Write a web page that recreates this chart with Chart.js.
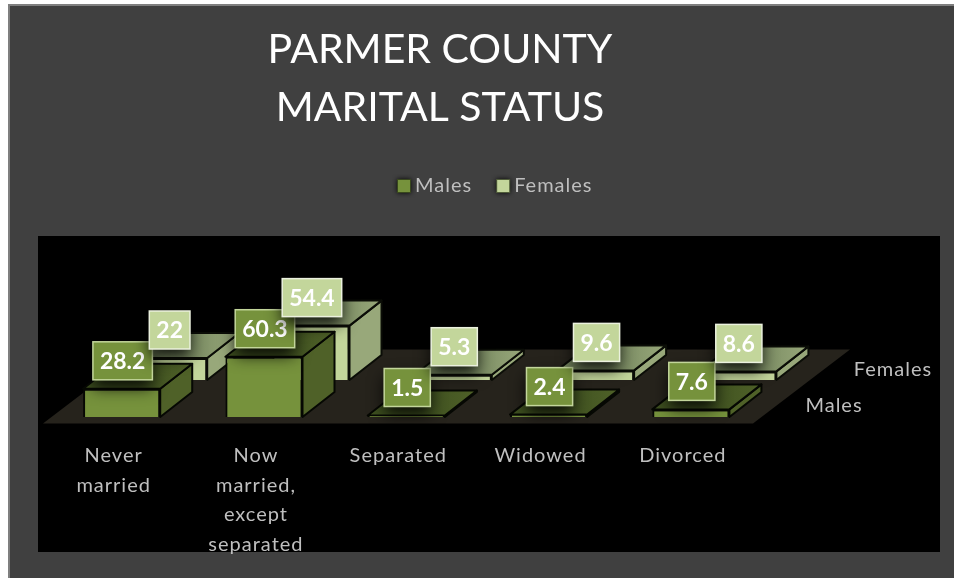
<!DOCTYPE html>
<html><head><meta charset="utf-8">
<style>html,body{margin:0;padding:0;background:#fff}canvas{display:block;filter:blur(0.5px)}</style>
<script src="https://cdn.jsdelivr.net/npm/chart.js@4"></script>
</head><body><canvas id="c" width="954" height="578"></canvas>
<script>
const categories = [['Never','married'],['Now','married,','except','separated'],'Separated','Widowed','Divorced'];
const males = [28.2, 60.3, 1.5, 2.4, 7.6];
const females = [22, 54.4, 5.3, 9.6, 8.6];
const titleLines = ['PARMER COUNTY','MARITAL STATUS'];
const seriesNames = ['Males','Females'];

const FONT = 'Lato';
const TEXT = '#bfbfbf';
const depth = {dx:32, dy:-25};
const shift = [{x:0,y:0},{x:47,y:-37}];
const look = [
  {front:'#76923c', side:'#4f6128', top:'#3f5120', edge:'#060803', box:'#76923c', boxEdge:'#c3d69b'},
  {front:'#c3d69b', side:'#98a87a', top:'#778860', edge:'#0b0d07', box:'#c3d69b', boxEdge:'#ebf1de'}
];

function swatch(fill){
  const s=document.createElement('canvas'); s.width=s.height=24;
  const g=s.getContext('2d');
  g.shadowColor='rgba(0,0,0,.9)'; g.shadowBlur=5;
  g.fillStyle=fill; g.fillRect(5,5,14,14);
  g.shadowBlur=0; g.lineWidth=1; g.strokeStyle='rgba(30,40,15,.7)'; g.strokeRect(5.5,5.5,13,13);
  return s;
}
function poly(ctx,pts,fill,edge,w){
  ctx.beginPath(); pts.forEach((p,i)=>i?ctx.lineTo(p[0],p[1]):ctx.moveTo(p[0],p[1])); ctx.closePath();
  ctx.fillStyle=fill; ctx.fill();
  if(edge){ctx.strokeStyle=edge;ctx.lineWidth=w;ctx.lineJoin='round';ctx.stroke();}
}

const scene = {
  id:'scene',
  beforeLayout(chart){chart.ctx.letterSpacing='1px';},
  afterLayout(chart){
    const t=chart.titleBlock; t.left=0; t.right=880; t.top=21;
    if(!t._wrapped){
      const d=t.draw; t._wrapped=true;
      t.draw=function(a){const c=chart.ctx; c.letterSpacing='0px'; d.call(this,a); c.letterSpacing='1px';};
    }
    const l=chart.legend; l.left=403-l.options.labels.padding; l.top=176-l.options.labels.padding;
  },
  beforeDraw(chart){
    const c=chart.ctx; c.letterSpacing='1px';
    c.fillStyle='#fff'; c.fillRect(0,0,954,578);
    c.fillStyle='#7f7f7f'; c.fillRect(8,4,946,574);
    c.fillStyle='#404040'; c.fillRect(10,6,944,572);
    c.fillStyle='#000'; c.fillRect(38,236,902,316);
  },
  beforeDatasetsDraw(chart){
    const c=chart.ctx, x=chart.scales.x, y=chart.scales.y;
    const fl=x.left-7.5, fr=x.right-9, fy=y.getPixelForValue(0)+6.5;
    poly(c,[[fl,fy],[fr,fy],[fr+97,fy-74],[fl+97,fy-74]],'#26231c');
  },
  beforeDatasetDraw(chart,{index,meta}){
    const c=chart.ctx, s=shift[index], k=look[index];
    c.save(); c.translate(s.x,s.y);
    meta.data.forEach(el=>{
      const {x,y,base,width}=el.getProps(['x','y','base','width'],true);
      const l=x-width/2, r=x+width/2;
      poly(c,[[r,y],[r+depth.dx,y+depth.dy],[r+depth.dx,base+depth.dy],[r,base]],k.side,k.edge,2);
      const g=c.createLinearGradient(l,y,r+depth.dx,y);
      g.addColorStop(0,k.top); g.addColorStop(.5,k.top); g.addColorStop(1,k.side);
      poly(c,[[l,y],[l+depth.dx,y+depth.dy],[r+depth.dx,y+depth.dy],[r,y]],g,k.edge,2);
    });
  },
  afterDatasetDraw(chart){chart.ctx.restore();},
  afterDatasetsDraw(chart){
    const c=chart.ctx;
    [0,1].forEach(i=>{
      const s=shift[i], k=look[i], vals=chart.data.datasets[i].data;
      chart.getDatasetMeta(i).data.forEach((el,j)=>{
        const {x,y}=el.getProps(['x','y'],true);
        const txt=String(vals[j]);
        c.save();
        c.letterSpacing='0px';
        c.font='bold 23px '+FONT;
        const w=c.measureText(txt).width+14, h=38;
        const cx=x+s.x+1, cy=y+s.y-28;
        c.shadowColor='rgba(0,0,0,.85)'; c.shadowBlur=16; c.shadowOffsetY=8;
        c.fillStyle=k.box; c.fillRect(cx-w/2,cy-h/2,w,h);
        c.shadowColor='transparent'; c.shadowBlur=0; c.shadowOffsetY=0;
        c.strokeStyle=k.boxEdge; c.lineWidth=1.5; c.strokeRect(cx-w/2,cy-h/2,w,h);
        c.fillStyle='#fff'; c.textAlign='center'; c.textBaseline='middle';
        c.fillText(txt,cx,cy+1);
        c.restore();
      });
    });
    c.save();
    c.font='20px '+FONT; c.fillStyle=TEXT; c.textAlign='center'; c.textBaseline='middle';
    c.fillText(seriesNames[1],893,370);
    c.fillText(seriesNames[0],834,406);
    c.restore();
  }
};

new Chart(document.getElementById('c'),{
  type:'bar',
  data:{labels:categories,datasets:[
    {label:seriesNames[0],data:males,backgroundColor:look[0].front,borderColor:look[0].edge,borderWidth:2,clip:false},
    {label:seriesNames[1],data:females,backgroundColor:look[1].front,borderColor:look[1].edge,borderWidth:2,clip:false}
  ]},
  plugins:[scene],
  options:{
    responsive:false,animation:false,devicePixelRatio:1,
    layout:{padding:{left:50.5,right:192,top:141,bottom:0}},
    datasets:{bar:{grouped:false,categoryPercentage:1,barPercentage:0.542}},
    scales:{
      x:{grid:{display:false},border:{display:false},
         afterFit(s){s.height=161;},
         ticks:{color:TEXT,font:{family:FONT,size:20,lineHeight:1.48},padding:16,labelOffset:-8,maxRotation:0,autoSkip:false}},
      y:{display:false,min:0,max:100}
    },
    plugins:{
      tooltip:{enabled:false},
      title:{display:true,text:titleLines,color:'#fff',padding:0,font:{family:FONT,size:41,weight:'normal',lineHeight:1.415}},
      legend:{display:true,position:'top',align:'start',
        labels:{color:TEXT,font:{family:FONT,size:20},padding:30,usePointStyle:true,pointStyleWidth:2,
          generateLabels(chart){
            return Chart.defaults.plugins.legend.labels.generateLabels(chart).map((it,i)=>Object.assign(it,{pointStyle:swatch(look[i].front)}));
          }}}
    }
  }
});
</script></body></html>
